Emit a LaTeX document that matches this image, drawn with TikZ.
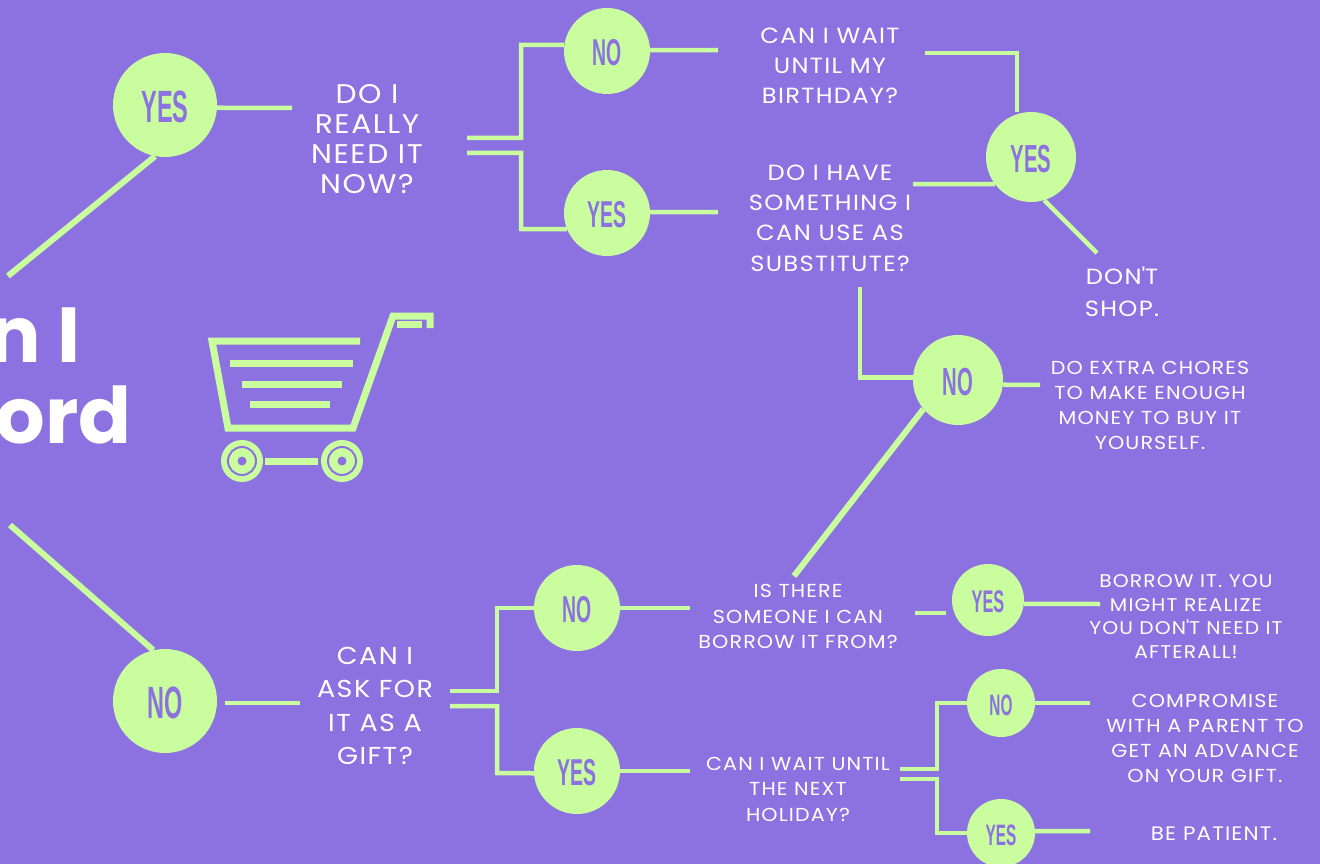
\documentclass[tikz,border=0pt]{standalone}
\usepackage{fontspec}
\setmainfont[FakeStretch=1.1,LetterSpace=6]{Poppins}
\newfontfamily\titlefont{Poppins}
\newfontfamily\gaugefont[FakeStretch=0.52]{Liberation Sans}
\definecolor{bgpurple}{HTML}{8C72E0}
\definecolor{limeline}{HTML}{C9FD9E}
\newcommand\answerfont[1]{\pgfmathsetmacro\answersize{#1*0.87}\gaugefont\bfseries\fontsize{\answersize}{\answersize}\selectfont}
\tikzset{
  answer/.style={circle, fill=limeline, text=bgpurple, inner sep=0pt, minimum size=#1*2pt, text height=#1*0.63pt+3pt, font=\answerfont{#1}},
  ask/.style 2 args={text=white, align=center, inner sep=0pt, font=\fontsize{#1}{#2}\selectfont},
  headline/.style={text=white, inner sep=0pt, anchor=base east, font=\titlefont\bfseries\fontsize{78}{78}\selectfont},
  link/.style={draw=limeline, line width=4.5pt},
  trunk/.style={draw=limeline, line width=6pt},
  cartline/.style={draw=limeline, line width=7pt}
}
\begin{document}
\begin{tikzpicture}[x=1pt, y=-1pt]
\fill[bgpurple] (0,0) rectangle (1320,864);
\useasboundingbox (0,0) rectangle (1320,864);

\node[headline] (titleA) at (81,362) {n I};
\node[headline] (titleB) at (132,443) {ord};

% answers
\node[answer=52] (yesBig) at (165,105) {YES};
\node[answer=52] (noBig)  at (165,701) {NO};
\node[answer=43] (noWait) at (607,51)  {NO};
\node[answer=43] (yesWait) at (607,213) {YES};
\node[answer=45] (yesShop) at (1031,157) {YES};
\node[answer=45] (noChore) at (958,380) {NO};
\node[answer=43] (noAsk)  at (577,608) {NO};
\node[answer=43] (yesAsk) at (577,771) {YES};
\node[answer=36] (yesLend) at (988,600) {YES};
\node[answer=34] (noGift) at (1001,703) {NO};
\node[answer=34] (yesGift) at (1001,833) {YES};

% questions
\node[ask={27}{30}] (needQ)  at (367,139) {DO I\\REALLY\\NEED IT\\NOW?};
\node[ask={22}{30}] (waitQ)  at (830,66)  {CAN I WAIT\\UNTIL MY\\BIRTHDAY?};
\node[ask={22}{30.3}] (subQ)   at (830,218) {DO I HAVE\\SOMETHING I\\CAN USE AS\\SUBSTITUTE?};
\node[ask={22}{32}] (shopQ)  at (1122,292) {DON\textquotesingle T\\SHOP.};
\node[ask={18.8}{25}] (choreQ) at (1150,405) {DO EXTRA CHORES\\TO MAKE ENOUGH\\MONEY TO BUY IT\\YOURSELF.};
\node[ask={24.5}{33.3}] (giftQ)  at (375,706) {CAN I\\ASK FOR\\IT AS A\\GIFT?};
\node[ask={18.8}{25.5}] (lendQ)  at (798,616.5) {IS THERE\\SOMEONE I CAN\\BORROW IT FROM?};
\node[ask={18.4}{23.5}] (borrowQ) at (1186,616.5) {BORROW IT. YOU\\MIGHT REALIZE\\YOU DON\textquotesingle T NEED IT\\AFTERALL!};
\node[ask={18.8}{25.5}] (holidayQ) at (798,789) {CAN I WAIT UNTIL\\THE NEXT\\HOLIDAY?};
\node[ask={18.8}{25}] (compQ)  at (1205,738) {COMPROMISE\\WITH A PARENT TO\\GET AN ADVANCE\\ON YOUR GIFT.};
\node[ask={19.5}{25}] (patientQ) at (1214,834) {BE PATIENT.};

% free ends
\coordinate (startTop) at (8,276);
\coordinate (startLow) at (10,525);
\coordinate (needIn) at (292,108);
\coordinate (giftIn) at (300,703);
\coordinate (giftOut) at (225,703);
\coordinate (needA) at (467,138);
\coordinate (needB) at (467,153);
\coordinate (giftA) at (450,691);
\coordinate (giftB) at (450,706);
\coordinate (holA) at (900,769);
\coordinate (holB) at (900,779);
\coordinate (waitIn) at (718,50);
\coordinate (subIn) at (718,212);
\coordinate (waitOut) at (925,53);
\coordinate (subOut) at (913,184);
\coordinate (subLow) at (860,287);
\coordinate (shopIn) at (1097,253);
\coordinate (choreIn) at (1040,385);
\coordinate (lendUp) at (794,576);
\coordinate (lendOut) at (915,613);
\coordinate (lendEnd) at (946,613);
\coordinate (borrowIn) at (1100,604);
\coordinate (askIn) at (690,608);
\coordinate (holIn) at (690,771);
\coordinate (compIn) at (1090,703);
\coordinate (patIn) at (1090,831);

\path[trunk]
(yesBig.259) edge (startTop)
(noBig.103)  edge (startLow)
(noChore.220) edge (lendUp);

\path[link]
(yesBig.357)  edge (needIn)
(giftOut)     edge (giftIn)
(noWait.1)    edge (waitIn)
(yesWait.1)   edge (subIn)
(yesShop.287) edge (shopIn)
(yesShop.217) edge (subOut)
(noChore.354) edge (choreIn)
(lendOut)     edge (lendEnd)
(yesLend.354) edge (borrowIn)
(noAsk.east)  edge (askIn)
(yesAsk.east) edge (holIn)
(noGift.east) edge (compIn)
(yesGift.3)   edge (patIn);

\draw[link] (needA) -| (521,45) -- (noWait.172);
\draw[link] (needB) -| (521,229) -- (yesWait.202);
\draw[link] (giftA) -| (497,608) -- (noAsk.west);
\draw[link] (giftB) -| (497,773) -- (yesAsk.183);
\draw[link] (holA) -| (937,703) -- (noGift.west);
\draw[link] (holB) -| (937,833) -- (yesGift.west);
\draw[link] (waitOut) -| (1017,112);
\draw[link] (subLow) |- (noChore.177);

% cart
\draw[cartline] (360,341) -- (212,341) -- (228,428) -- (353,428) -- (393,316) -- (430,316) -- (430,328);
\draw[cartline] (397,324) -- (422,324);
\draw[cartline] (230,363) -- (353,363);
\draw[cartline] (242,384) -- (342,384);
\draw[cartline] (250,404) -- (330,404);
\draw[cartline] (265,461) -- (318,461);
\foreach \wx in {242,342} {
  \fill[limeline] (\wx,461) circle (21pt);
  \draw[bgpurple, line width=2pt] (\wx,461) circle (14pt);
  \fill[bgpurple] (\wx,461) circle (4.5pt);
}
\end{tikzpicture}
\end{document}
